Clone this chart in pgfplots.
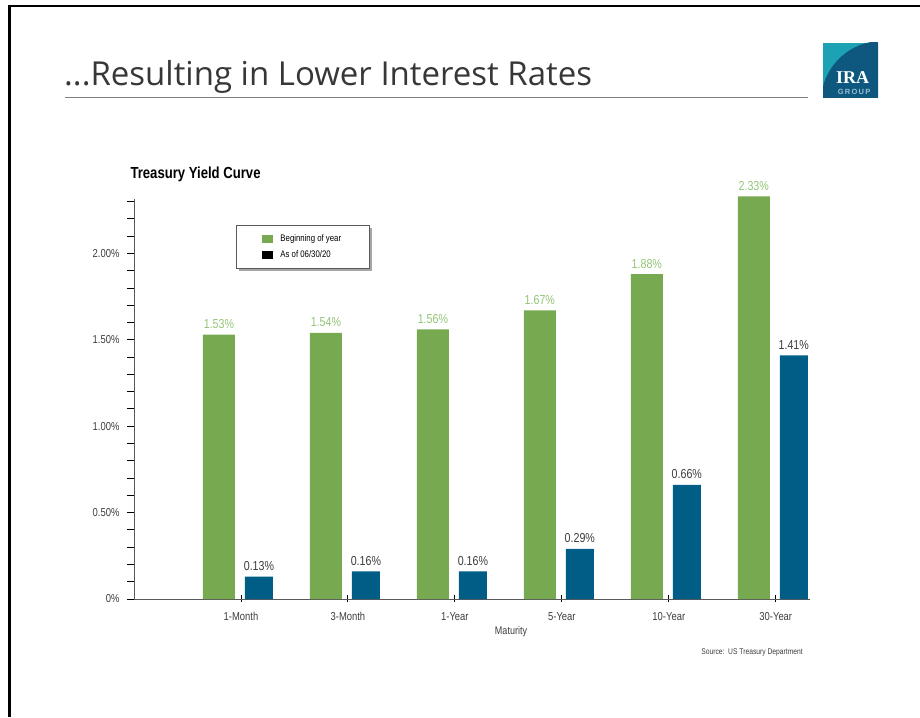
\documentclass[border=0pt]{standalone}
\usepackage{pgfplots}
\pgfplotsset{compat=1.18}
\usetikzlibrary{shadows}
\usepackage{fontspec}
\setmainfont{Liberation Sans}
\newfontfamily\chartfont{Liberation Sans}[FakeStretch=0.82]
\newfontfamily\titlefont{Open Sans}
\newfontfamily\logoserif{Liberation Serif}
\makeatletter
\tikzset{no preactions/.code={\let\tikz@preactions\pgfutil@empty}}
\makeatother
\definecolor{barGreen}{RGB}{118,169,80}
\definecolor{labelGreen}{RGB}{146,196,118}
\definecolor{barBlue}{RGB}{0,94,134}
\definecolor{labelGray}{RGB}{60,60,60}
\definecolor{axisGray}{RGB}{90,90,90}
\definecolor{titleGray}{RGB}{55,55,55}
\definecolor{logoTeal}{RGB}{28,162,178}
\definecolor{logoBlue}{RGB}{14,88,128}
\definecolor{logoLight}{RGB}{150,190,210}
\begin{document}
\begin{tikzpicture}
\begin{scope}[x=1pt,y=-1pt]
\path[use as bounding box] (0,0) rectangle (920,717);
\draw[line width=2.6pt, line join=miter] (9.5,717) -- (9.5,6) -- (920,6);
\node[anchor=base west, inner sep=0pt, font=\titlefont\fontsize{33}{40}\selectfont, text=titleGray] at (64,85) {...Resulting in Lower Interest Rates};
\draw[draw=gray, line width=1.3pt] (65,97.5) -- (808,97.5);
\begin{scope}
\clip (823,43) rectangle (878,97);
\fill[logoTeal] (823,43) rectangle (878,97);
\fill[logoBlue] (882,102) circle (61);
\end{scope}
\node[anchor=base, inner sep=0pt, font=\logoserif\bfseries\fontsize{18}{20}\selectfont, text=white] at (852.5,83) {IRA};
\node[anchor=base, inner sep=0pt, font=\bfseries\fontsize{7.5}{8}\selectfont, text=logoLight] at (854,94) {G\,R\,O\,U\,P};
\node[anchor=center, inner sep=0pt, font=\chartfont\fontsize{8.2}{9}\selectfont, text=labelGray] at (752,652) {Source:~~US Treasury Department};
\end{scope}
\begin{axis}[
  at={(134pt,-599pt)}, anchor=south west,
  scale only axis, width=676pt, height=400pt,
  xmin=0, xmax=6.32, ymin=0, ymax=2.315,
  clip=false,
  axis x line*=bottom, axis y line*=left,
  axis line style={draw=axisGray, line width=1pt, -},
  xtick={1,2,3,4,5,6},
  xticklabels={1-Month,3-Month,1-Year,5-Year,10-Year,30-Year},
  ytick={0,0.5,1,1.5,2},
  yticklabels={0\%,0.50\%,1.00\%,1.50\%,2.00\%},
  minor ytick={0.1,0.2,0.3,0.4,0.6,0.7,0.8,0.9,1.1,1.2,1.3,1.4,1.6,1.7,1.8,1.9,2.1,2.2,2.3},
  tick align=outside,
  major tick length=7pt, minor tick length=7pt,
  tick style={draw=black, line width=0.9pt},
  x tick style={yshift=4pt},
  ticklabel style={font=\chartfont\fontsize{11.5}{13}\selectfont, text=labelGray},
  yticklabel style={xshift=-4pt},
  xticklabel style={yshift=-3pt},
  xlabel={Maturity},
  xlabel style={at={(axis description cs:0.5577,0)}, anchor=center, yshift=-33pt, font=\chartfont\fontsize{11}{13}\selectfont, text=labelGray},
  title={Treasury Yield Curve},
  title style={at={(axis description cs:0,1)}, anchor=base west, xshift=-7pt, yshift=15pt, font=\chartfont\bfseries\fontsize{16}{18}\selectfont, text=black},
  legend image code/.code={\fill[no preactions, #1] (0pt,-4pt) rectangle (11pt,4pt);},
  legend cell align=left,
  legend style={at={(0.151,0.935)}, anchor=north west, draw=axisGray, line width=0.8pt, fill=white,
    font=\chartfont\fontsize{9.5}{11}\selectfont, text=black, inner xsep=26pt, inner ysep=7pt, row sep=4pt,
    /tikz/every odd column/.append style={column sep=5pt},
    drop shadow={shadow xshift=2.5pt, shadow yshift=-2.5pt, opacity=0.35, fill=black}},
]
\addlegendimage{fill=barGreen, draw=none}
\addlegendentry{Beginning of year}
\addlegendimage{fill=black, draw=none}
\addlegendentry{As of 06/30/20}
\addplot[ybar, bar width=32pt, bar shift=-22pt, fill=barGreen, draw=none, forget plot,
  point meta=explicit symbolic, nodes near coords,
  nodes near coords style={font=\chartfont\fontsize{13}{15}\selectfont, text=labelGreen, inner sep=0pt, anchor=base, xshift=-22pt, yshift=6pt}]
  coordinates {(1,1.53)[1.53\%] (2,1.54)[1.54\%] (3,1.56)[1.56\%] (4,1.67)[1.67\%] (5,1.88)[1.88\%] (6,2.33)[2.33\%]};
\addplot[ybar, bar width=28pt, bar shift=18pt, fill=barBlue, draw=none, forget plot,
  point meta=explicit symbolic, nodes near coords,
  nodes near coords style={font=\chartfont\fontsize{13}{15}\selectfont, text=labelGray, inner sep=0pt, anchor=base, xshift=18pt, yshift=6pt}]
  coordinates {(1,0.13)[0.13\%] (2,0.16)[0.16\%] (3,0.16)[0.16\%] (4,0.29)[0.29\%] (5,0.66)[0.66\%] (6,1.41)[1.41\%]};
\end{axis}
\end{tikzpicture}
\end{document}
